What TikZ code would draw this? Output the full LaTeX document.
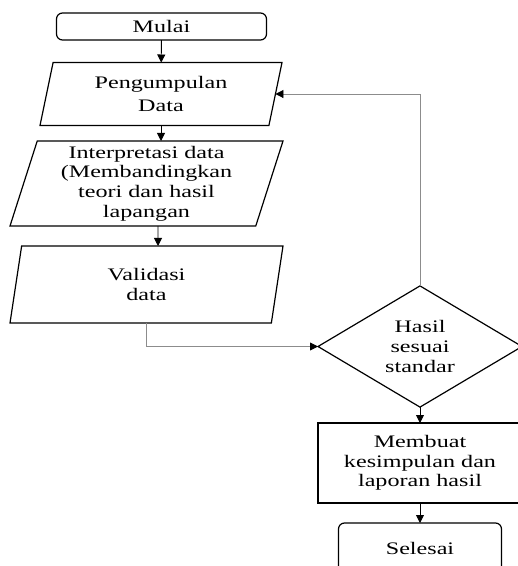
\documentclass[tikz,border=0pt]{standalone}
\usepackage{fontspec}
\setmainfont[FakeStretch=1.37]{Liberation Serif}
\usetikzlibrary{shapes.geometric,arrows.meta}
\definecolor{linegray}{RGB}{140,140,140}
\begin{document}
\begin{tikzpicture}[x=1pt,y=-1pt,
  font=\fontsize{17.6}{19.6}\selectfont,
  box/.style={draw,line width=1.2pt,inner sep=0pt,outer sep=0pt,align=center},
  term/.style={box,rectangle,rounded corners=6pt},
  io/.style={box,trapezium,trapezium left angle=70,trapezium right angle=110,
    trapezium stretches body},
  arr/.style={line width=0.9pt,-{Triangle[length=8pt,width=8pt,color=black]}}]
\useasboundingbox (0,0) rectangle (518,566);
% shapes
\node[term,minimum width=210,minimum height=27] (mulai) at (161.5,26.5) {Mulai};
\node[io,minimum width=242,minimum height=63] (peng) at (161,94)
  {Pengumpulan\\[4pt]Data};
\node[io,minimum width=273,minimum height=85] (interp) at (146.5,183.5)
  {Interpretasi data\\(Membandingkan\\teori dan hasil\\lapangan};
\node[io,minimum width=273,minimum height=77] (valid) at (146.5,284.5)
  {Validasi\\data};
\node[box,diamond,minimum width=204,minimum height=111] (cek) at (420,346.5)
  {Hasil\\sesuai\\standar};
\node[box,rectangle,minimum width=204,minimum height=80] (lapor) at (420,463)
  {Membuat\\kesimpulan dan\\laporan hasil};
\node[term,minimum width=163,minimum height=50] (selesai) at (420,548) {Selesai};
% connectors
\draw[arr] (mulai) -- (peng);
\draw[arr] (peng.south) -- (peng.south |- interp.north);
\draw[arr] ([xshift=11.5]interp.south) -- ([xshift=11.5]valid.north);
\draw[arr,draw=linegray] (valid.south) |- (cek.west);
\draw[arr,draw=linegray] (cek.north) |- (peng.east);
\draw[arr] (cek) -- (lapor);
\draw[arr] (lapor) -- (selesai);
\end{tikzpicture}
\end{document}
